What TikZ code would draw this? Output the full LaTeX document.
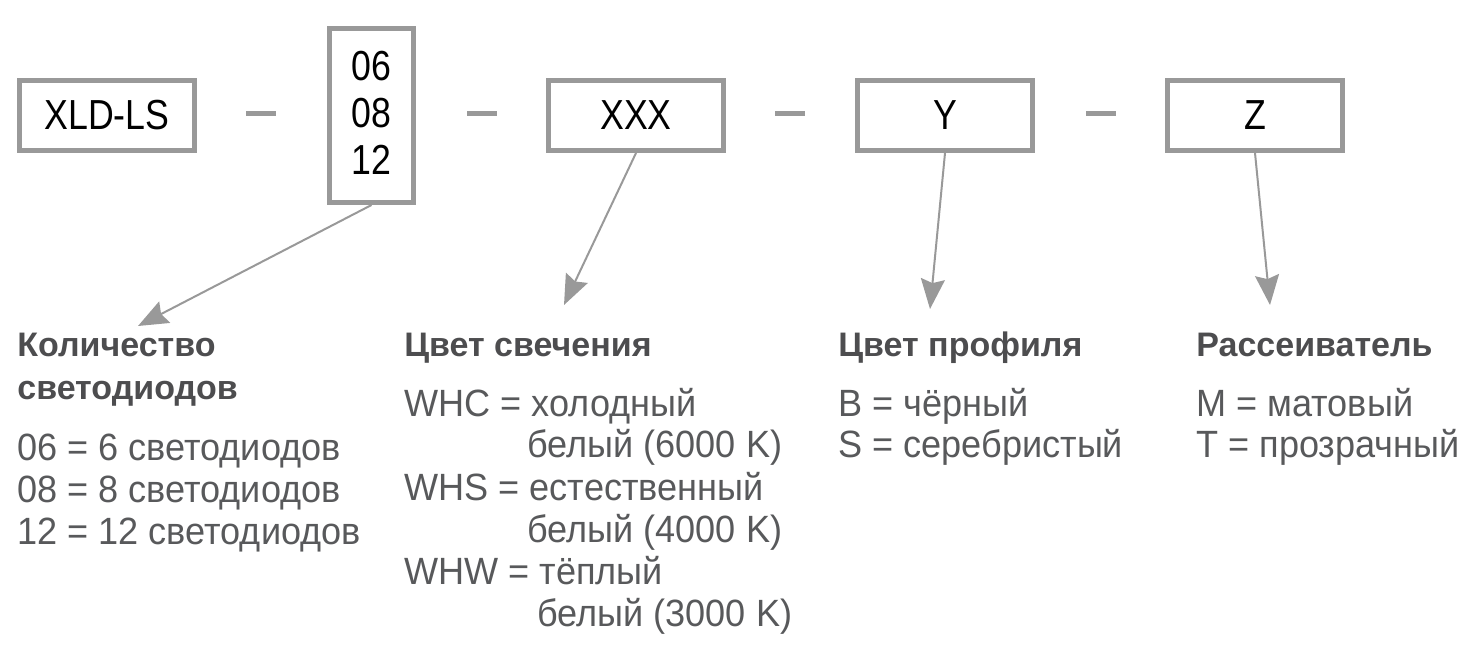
\documentclass[tikz,border=0pt]{standalone}
\usepackage{fontspec}
\setmainfont{Liberation Sans}
\newfontfamily\boxfont[FakeStretch=0.85]{Liberation Sans}
\newfontfamily\entryfont[FakeStretch=0.95]{Liberation Sans}
\usetikzlibrary{arrows.meta}
\definecolor{linegray}{HTML}{999999}
\definecolor{textgray}{HTML}{58595B}
\definecolor{headgray}{HTML}{4D4D4F}
\tikzset{
  codebox/.style={draw=linegray, line width=2.5pt, minimum width=87.5pt, minimum height=35pt,
    inner sep=0pt, font=\boxfont\fontsize{21pt}{23.5pt}\selectfont, text=black},
  sepbar/.style={fill=linegray, minimum width=15pt, minimum height=2.5pt, inner sep=0pt},
  pointer/.style={draw=linegray, line width=1pt, -{Stealth[length=15pt, width=12pt, inset=2pt]}},
  head/.style={anchor=base west, inner sep=0pt, text=headgray,
    font=\bfseries\fontsize{17pt}{20pt}\selectfont},
  entry/.style={anchor=base west, inner sep=0pt, text=textgray,
    font=\entryfont\fontsize{19pt}{21pt}\selectfont}
}
\begin{document}
\begin{tikzpicture}[x=0.5pt, y=-0.5pt]
\useasboundingbox (0,0) rectangle (1477,662);
% code boxes
\node[codebox] (series) at (107,115.5) {XLD-LS};
\node[codebox, minimum width=42pt, minimum height=87pt, align=center, text depth=3pt] (leds) at (371.5,115.5) {06\\08\\12};
\node[codebox] (light) at (636,115.5) {XXX};
\node[codebox] (profile) at (945,115.5) {Y};
\node[codebox] (diffuser) at (1255,115.5) {Z};
\node[sepbar] (s1) at (261,114) {};
\node[sepbar] (s2) at (482,114) {};
\node[sepbar] (s3) at (790,114) {};
\node[sepbar] (s4) at (1101,114) {};
% arrow ends
\coordinate (t1) at (138,326);
\coordinate (t2) at (564,305);
\coordinate (t3) at (930,309);
\coordinate (t4) at (1270,305);
\draw[pointer] (leds.south) -- (t1);
\draw[pointer] (light.south) -- (t2);
\draw[pointer] (profile.south) -- (t3);
\draw[pointer] (diffuser.south) -- (t4);
% number of LEDs
\node[head] (h1a) at (17,357) {Количество};
\node[head] (h1b) at (17,400) {светодиодов};
\node[entry] (l1) at (17,460) {06 = 6 светодиодов};
\node[entry] (l2) at (17,502) {08 = 8 светодиодов};
\node[entry] (l3) at (17,544) {12 = 12 светодиодов};
% light colour
\node[head] (h2) at (404,357) {Цвет свечения};
\node[entry] (c1) at (404,416) {WHC = холодный};
\node[entry] (c2) at (527,458) {белый (6000 K)};
\node[entry] (c3) at (404,500) {WHS = естественный};
\node[entry] (c4) at (527,542) {белый (4000 K)};
\node[entry] (c5) at (404,584) {WHW = тёплый};
\node[entry] (c6) at (537,626) {белый (3000 K)};
% profile colour
\node[head] (h3) at (838,357) {Цвет профиля};
\node[entry] (p1) at (838,416) {B = чёрный};
\node[entry] (p2) at (838,458) {S = серебристый};
% diffuser
\node[head] (h4) at (1196,357) {Рассеиватель};
\node[entry] (d1) at (1196,416) {M = матовый};
\node[entry] (d2) at (1196,458) {T = прозрачный};
\end{tikzpicture}
\end{document}
